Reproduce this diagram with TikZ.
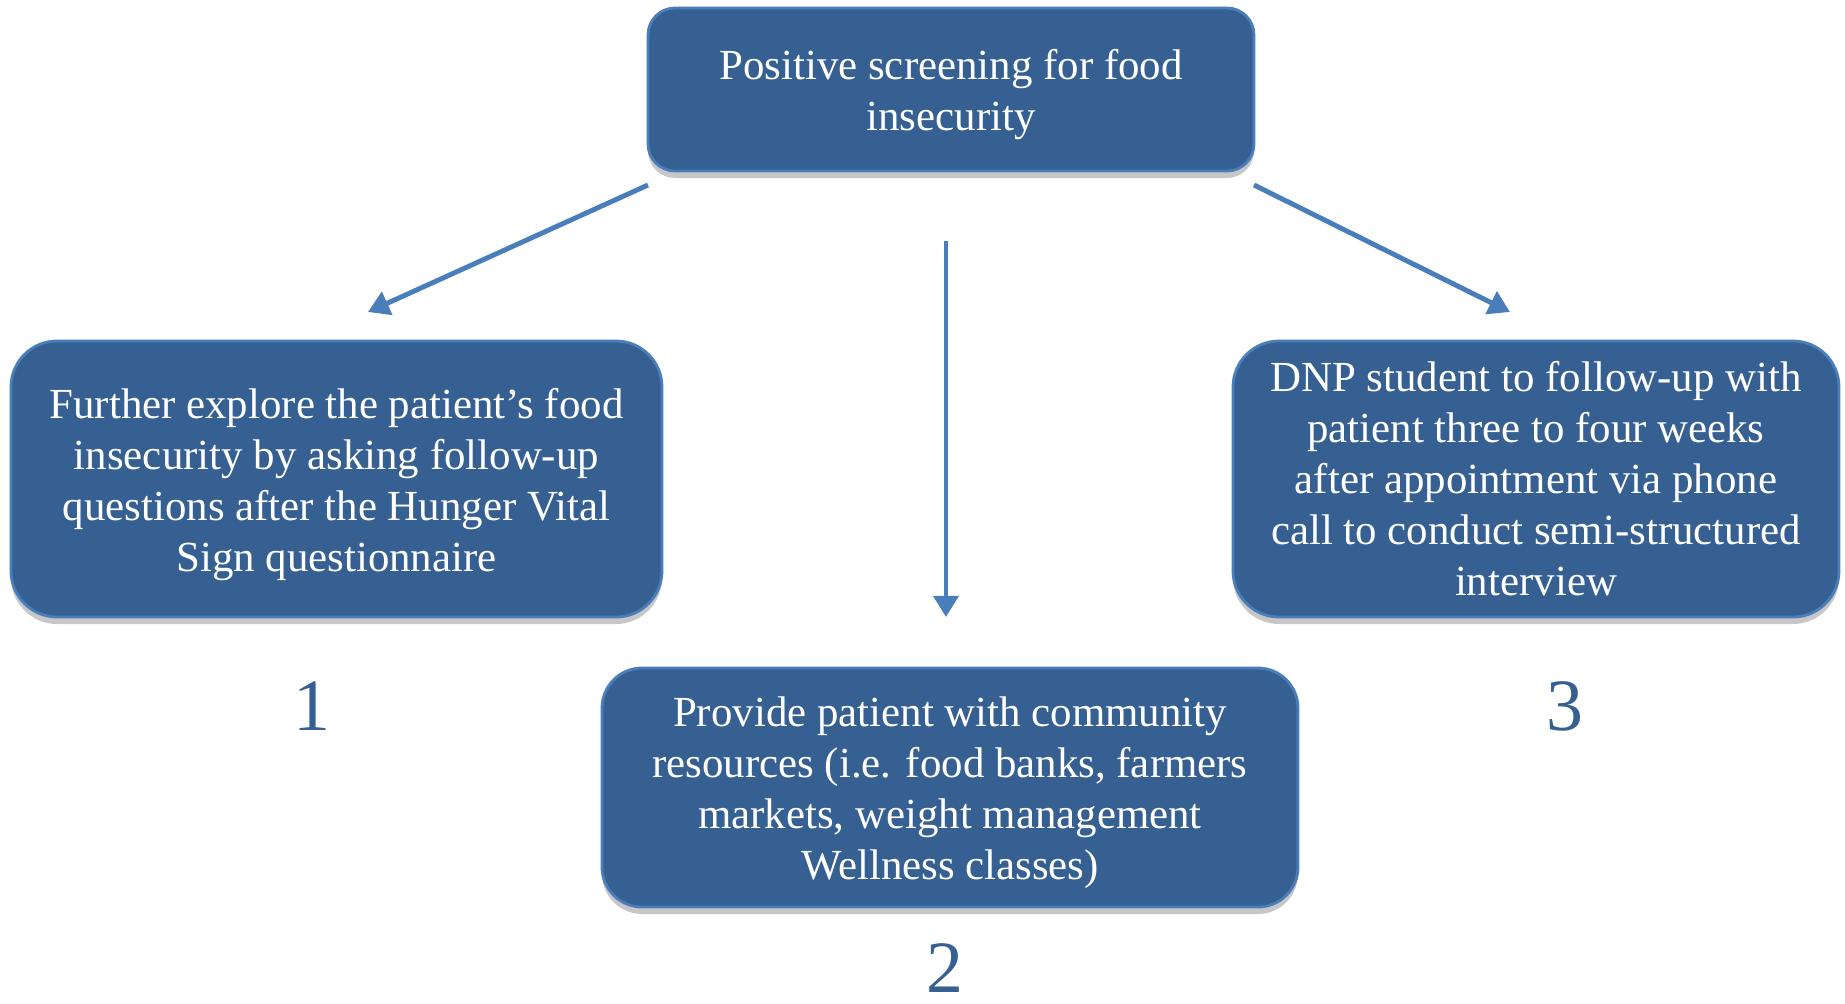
\documentclass[tikz,border=0pt]{standalone}
\usepackage{fontspec}
\setmainfont{Liberation Serif}
\usetikzlibrary{arrows.meta,shadows}
\definecolor{boxfill}{HTML}{376092}
\definecolor{boxline}{HTML}{4A7EBB}
\definecolor{arrowblue}{HTML}{4A7EBB}
% taller first line pushes the text block down a little
\newcommand{\firstlinedown}{\rule{0pt}{11.6pt}}
\tikzset{
  stepbox/.style={draw=boxline, line width=0.8pt, fill=boxfill, text=white,
    align=center, inner sep=0pt,
    font=\fontsize{12.2pt}{14.5pt}\selectfont,
    drop shadow={shadow xshift=0pt, shadow yshift=-0.7mm, opacity=0.22, fill=black}},
  flow/.style={draw=arrowblue, line width=1.4pt, -{Triangle[width=7pt,length=6pt]}},
  numlabel/.style={text=boxfill, font=\fontsize{21pt}{24pt}\selectfont, inner sep=0pt}
}
\begin{document}
\begin{tikzpicture}[x=0.1mm, y=-0.1mm]
  \useasboundingbox (0,0) rectangle (1845,1003);

  % process boxes
  \node[stepbox, minimum width=606*0.1mm, minimum height=163*0.1mm, rounded corners=2.7mm]
    (screen) at (951,89.5) {\firstlinedown Positive screening for food\\insecurity};
  \node[stepbox, minimum width=651*0.1mm, minimum height=276*0.1mm, rounded corners=4.6mm]
    (explore) at (336.5,479) {\firstlinedown Further explore the patient’s food\\insecurity by asking follow-up\\questions after the Hunger Vital\\Sign questionnaire};
  \node[stepbox, minimum width=606*0.1mm, minimum height=276*0.1mm, rounded corners=4.6mm]
    (followup) at (1536,479) {DNP student to follow-up with\\patient three to four weeks\\after appointment via phone\\call to conduct semi-structured\\interview};
  \node[stepbox, minimum width=696*0.1mm, minimum height=239*0.1mm, rounded corners=4.0mm]
    (resources) at (950,787.5) {\firstlinedown Provide patient with community\\resources (i.e. food banks, farmers\\markets, weight management\\Wellness classes)};

  % step numbers
  \node[numlabel] (n1) at (312,706) {1};
  \node[numlabel] (n2) at (945,968) {2};
  \node[numlabel] (n3) at (1565,706) {3};

  % connector end points
  \coordinate (aLs) at (648,185);
  \coordinate (aLe) at (368,312);
  \coordinate (aMs) at (946,241);
  \coordinate (aMe) at (946,617);
  \coordinate (aRs) at (1254,185);
  \coordinate (aRe) at (1510,312);

  \draw[flow] (aLs) -- (aLe);
  \draw[flow] (aMs) -- (aMe);
  \draw[flow] (aRs) -- (aRe);
\end{tikzpicture}
\end{document}
